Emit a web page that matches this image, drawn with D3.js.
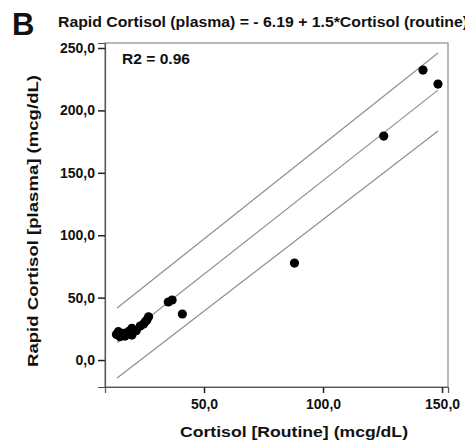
<!DOCTYPE html>
<html>
<head>
<meta charset="utf-8">
<script src="https://cdn.jsdelivr.net/npm/d3@7"></script>
<style>
  html, body { margin: 0; padding: 0; background: #fff; }
  svg { display: block; }
  text { font-family: "Liberation Sans", Arial, sans-serif; fill: #111; }
</style>
</head>
<body>
<svg id="chart" width="465" height="444"></svg>
<script>
// Routine cortisol (x) vs rapid plasma cortisol (y), mcg/dL
const routine = [142.0, 148.3, 125.5, 88.0, 40.9, 36.6, 35.0,
                 14.0, 14.7, 16.1, 16.8, 18.2, 19.7, 19.7, 23.2, 24.6, 26.0, 26.7, 25.3, 13.2, 21.5];
const rapid   = [232.3, 221.1, 179.4, 77.7, 36.9, 48.1, 46.5,
                 22.7, 18.7, 21.4, 19.2, 22.7, 25.4, 20.0, 27.2, 28.8, 32.0, 34.7, 30.7, 20.5, 23.5];

// Fitted regression line stated in the title
const intercept = -6.19;
const slope = 1.5;

// Prediction band end points (x, upper, lower)
const bandX     = [13.5, 148.3];
const bandUpper = [41.7, 246.0];
const bandLower = [-14.4, 183.5];

const xTicks = [50, 100, 150];
const yTicks = [0, 50, 100, 150, 200, 250];
const fmt = v => d3.format(".1f")(v).replace(".", ",");

const svg = d3.select("#chart");
const plotL = 105, plotT = 43, plotR = 448, plotB = 387;

const x = d3.scaleLinear().domain([8.4, 152.5]).range([plotL, plotR]);
const y = d3.scaleLinear().domain([-21.6, 254.0]).range([plotB, plotT]);

// Panel letter and title
svg.append("text").attr("x", 12).attr("y", 35)
  .style("font-size", "31px").style("font-weight", "bold").text("B");
svg.append("text").attr("x", 58).attr("y", 27)
  .attr("textLength", 410).attr("lengthAdjust", "spacingAndGlyphs")
  .style("font-size", "14px").style("font-weight", "bold")
  .text("Rapid Cortisol (plasma) = - 6.19 + 1.5*Cortisol (routine)");

// Plot frame
svg.append("rect").attr("x", plotL).attr("y", plotT)
  .attr("width", plotR - plotL).attr("height", plotB - plotT)
  .attr("fill", "none").attr("stroke", "#8a8a8a").attr("stroke-width", 1.2);

// Axes
const yAxis = d3.axisLeft(y).tickValues(yTicks).tickFormat(fmt).tickSize(7).tickPadding(3);
const xAxis = d3.axisBottom(x).tickValues(xTicks).tickFormat(fmt).tickSize(6).tickPadding(6);

const gy = svg.append("g").attr("transform", `translate(${plotL},0)`).call(yAxis);
const gx = svg.append("g").attr("transform", `translate(0,${plotB})`).call(xAxis);
[gy, gx].forEach(g => {
  g.select(".domain").attr("stroke", "#555").attr("stroke-width", 1.2);
  g.selectAll(".tick line").attr("stroke", "#222").attr("stroke-width", 1.5);
  g.selectAll(".tick text").style("font-size", "14px").style("font-weight", "bold")
    .style("font-family", "'Liberation Sans', Arial, sans-serif").attr("fill", "#222");
});

// Band and fit lines
const lineGen = d3.line().x(d => x(d[0])).y(d => y(d[1]));
const bands = [
  bandX.map((v, i) => [v, bandUpper[i]]),
  bandX.map(v => [v, intercept + slope * v]),
  bandX.map((v, i) => [v, bandLower[i]])
];
svg.append("g").selectAll("path").data(bands).join("path")
  .attr("d", lineGen).attr("fill", "none")
  .attr("stroke", "#8c8c8c").attr("stroke-width", 1.1);

// Observations
svg.append("g").selectAll("circle").data(routine.map((v, i) => [v, rapid[i]])).join("circle")
  .attr("cx", d => x(d[0])).attr("cy", d => y(d[1])).attr("r", 4.6)
  .attr("fill", "#000");

// Fit statistic
svg.append("text").attr("x", 122).attr("y", 64)
  .attr("textLength", 68).attr("lengthAdjust", "spacingAndGlyphs")
  .style("font-size", "14px").style("font-weight", "bold").attr("fill", "#222")
  .text("R2 = 0.96");

// Axis titles
svg.append("text").attr("x", 294).attr("y", 437).attr("text-anchor", "middle")
  .attr("textLength", 228).attr("lengthAdjust", "spacingAndGlyphs")
  .style("font-size", "14px").style("font-weight", "bold").attr("fill", "#222")
  .text("Cortisol [Routine] (mcg/dL)");
svg.append("text").attr("transform", "translate(38,221) rotate(-90)")
  .attr("text-anchor", "middle")
  .attr("textLength", 292).attr("lengthAdjust", "spacingAndGlyphs")
  .style("font-size", "14px").style("font-weight", "bold").attr("fill", "#222")
  .text("Rapid Cortisol [plasma] (mcg/dL)");
</script>
</body>
</html>
